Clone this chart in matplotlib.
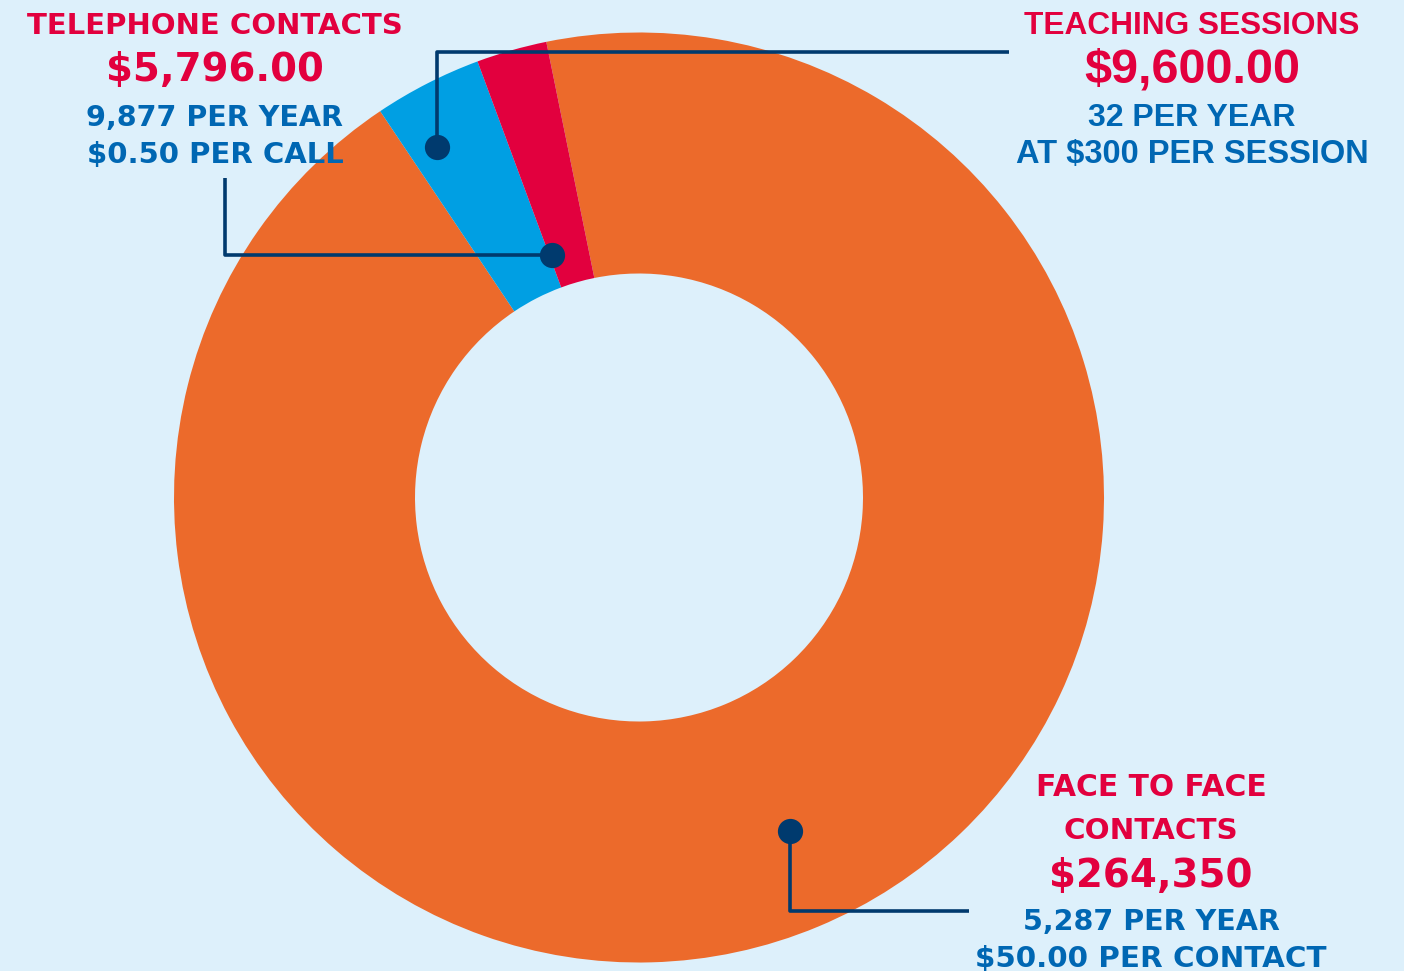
import matplotlib.pyplot as plt
import matplotlib

matplotlib.rcParams['font.family'] = ['DejaVu Sans']

# slice shares as drawn (percent of the ring), order clockwise from the top-left edge
slices = ['Face to face contacts', 'Teaching sessions', 'Telephone contacts']
shares = [93.8, 3.75, 2.45]
colors = ['#EC6A2B', '#009FE3', '#E2003E']

# label texts
tel_lines = ['TELEPHONE CONTACTS', '$5,796.00', '9,877 PER YEAR', '$0.50 PER CALL']
teach_lines = ['TEACHING SESSIONS', '$9,600.00', '32 PER YEAR', 'AT $300 PER SESSION']
face_lines = ['FACE TO FACE', 'CONTACTS', '$264,350', '5,287 PER YEAR', '$50.00 PER CONTACT']

bg = '#DDF0FB'
red = '#E2003E'
blue_txt = '#0067B3'
navy = '#003A6E'

W, H = 1404, 971
fig = plt.figure(figsize=(W/100, H/100), dpi=100, facecolor=bg)
ax = fig.add_axes([0, 0, 1, 1])
ax.set_facecolor(bg)

# y axis is inverted so everything is in pixel coords; pie angles flip with it
ax.pie(shares, colors=colors, startangle=-101.5, counterclock=True,
       center=(639, 497.5), radius=465,
       wedgeprops=dict(width=241, linewidth=0, edgecolor='none'))
ax.set_xlim(0, W)
ax.set_ylim(H, 0)
ax.set_aspect('equal')
ax.axis('off')

# leader lines
lw = 2.6
ax.plot([437, 437, 1009], [147, 52, 52], c=navy, lw=lw, solid_capstyle='butt', zorder=3)
ax.plot([225, 225, 552], [178, 255, 255], c=navy, lw=lw, solid_capstyle='butt', zorder=3)
ax.plot([790, 790, 969], [831, 911, 911], c=navy, lw=lw, solid_capstyle='butt', zorder=3)
ax.scatter([437, 552, 790], [147, 255, 831], s=330, c=navy, zorder=4, linewidths=0)

def label(x, ys, lines, sizes, cols, family=None):
    for y, t, s, c in zip(ys, lines, sizes, cols):
        kw = {}
        if family:
            kw['family'] = family
        ax.text(x, y, t, ha='center', va='center', fontsize=s, color=c,
                fontweight='bold', zorder=5, **kw)

label(215, [26, 70, 118, 155], tel_lines, [21, 27.8, 20.6, 21],
      [red, red, blue_txt, blue_txt])
label(1192, [26, 70, 118, 155], teach_lines, [22.8, 35, 23, 23.5],
      [red, red, blue_txt, blue_txt], family=['Liberation Sans', 'DejaVu Sans'])
label(1151, [788, 831, 876, 922, 959], face_lines, [21.4, 21.2, 27.9, 20.6, 21.2],
      [red, red, red, blue_txt, blue_txt])

fig.savefig('out.png', dpi=100, facecolor=bg)
